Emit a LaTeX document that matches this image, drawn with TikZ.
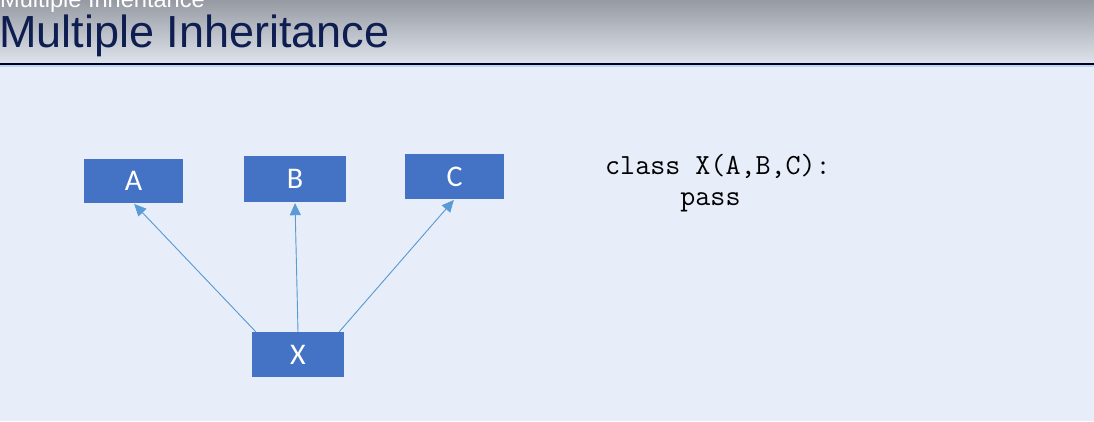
\documentclass[tikz,border=0pt]{standalone}
\usepackage{fontspec}
\setmainfont{Liberation Sans}
\newfontfamily\boxfont{Carlito}
\usetikzlibrary{arrows.meta,positioning,calc}

\definecolor{slidebg}{HTML}{E8EEF9}
\definecolor{headtop}{HTML}{969AA2}
\definecolor{headbot}{HTML}{DDE1E9}
\definecolor{titlenavy}{HTML}{0E1E50}
\definecolor{boxblue}{HTML}{4472C4}
\definecolor{arrowblue}{HTML}{5B9BD5}

\begin{document}
\begin{tikzpicture}[
    x=1pt, y=-1pt,
    classbox/.style={
        rectangle, fill=boxblue, text=white,
        inner sep=0pt, font=\boxfont\fontsize{30}{34}\selectfont
    },
    inherit/.style={-{Triangle[length=12pt,width=11pt]}, draw=arrowblue,
        fill=arrowblue, line width=0.9pt, shorten >=1pt},
]
  %--- slide background and header ---------------------------
  \useasboundingbox (0,0) rectangle (1094,421);
  \fill[slidebg] (0,0) rectangle (1094,421);
  \shade[top color=headtop, bottom color=headbot] (0,0) rectangle (1094,62);
  \fill[black!85!blue] (0,62.5) rectangle (1094,65);
  \fill[arrowblue!40] (0,65) rectangle (1094,66.5);

  \node (subtitle) [anchor=base west, inner sep=0pt, text=white,
      font=\fontsize{23.6}{26}\selectfont] at (0,7) {Multiple Inheritance};
  \node (title) [anchor=base west, inner sep=0pt, text=titlenavy,
      font=\fontsize{45}{50}\selectfont] at (-1,47) {Multiple Inheritance};

  %--- classes ------------------------------------------------
  \node (A) [classbox, minimum width=99pt, minimum height=44pt] at (133.5,181) {A};
  \node (B) [classbox, minimum width=102pt, minimum height=46pt] at (295,179) {B};
  \node (C) [classbox, minimum width=99pt, minimum height=45pt] at (454.5,176.5) {C};
  \node (X) [classbox, minimum width=92pt, minimum height=45pt] at (298,354.5) {X};

  %--- inheritance arrows -------------------------------------
  \draw[inherit] ($(X.north west)+(4,0)$) -- (A.south);
  \draw[inherit] (X.north) -- (B.south);
  \draw[inherit] ($(X.north east)+(-5,0)$) -- (C.south);

  %--- code ---------------------------------------------------
  \node (code) [anchor=base west, inner sep=0pt, align=left,
      font=\ttfamily\fontsize{29.2}{31}\selectfont] at (605,205)
      {class X(A,B,C):\\\phantom{xxxxx}pass};
\end{tikzpicture}
\end{document}
